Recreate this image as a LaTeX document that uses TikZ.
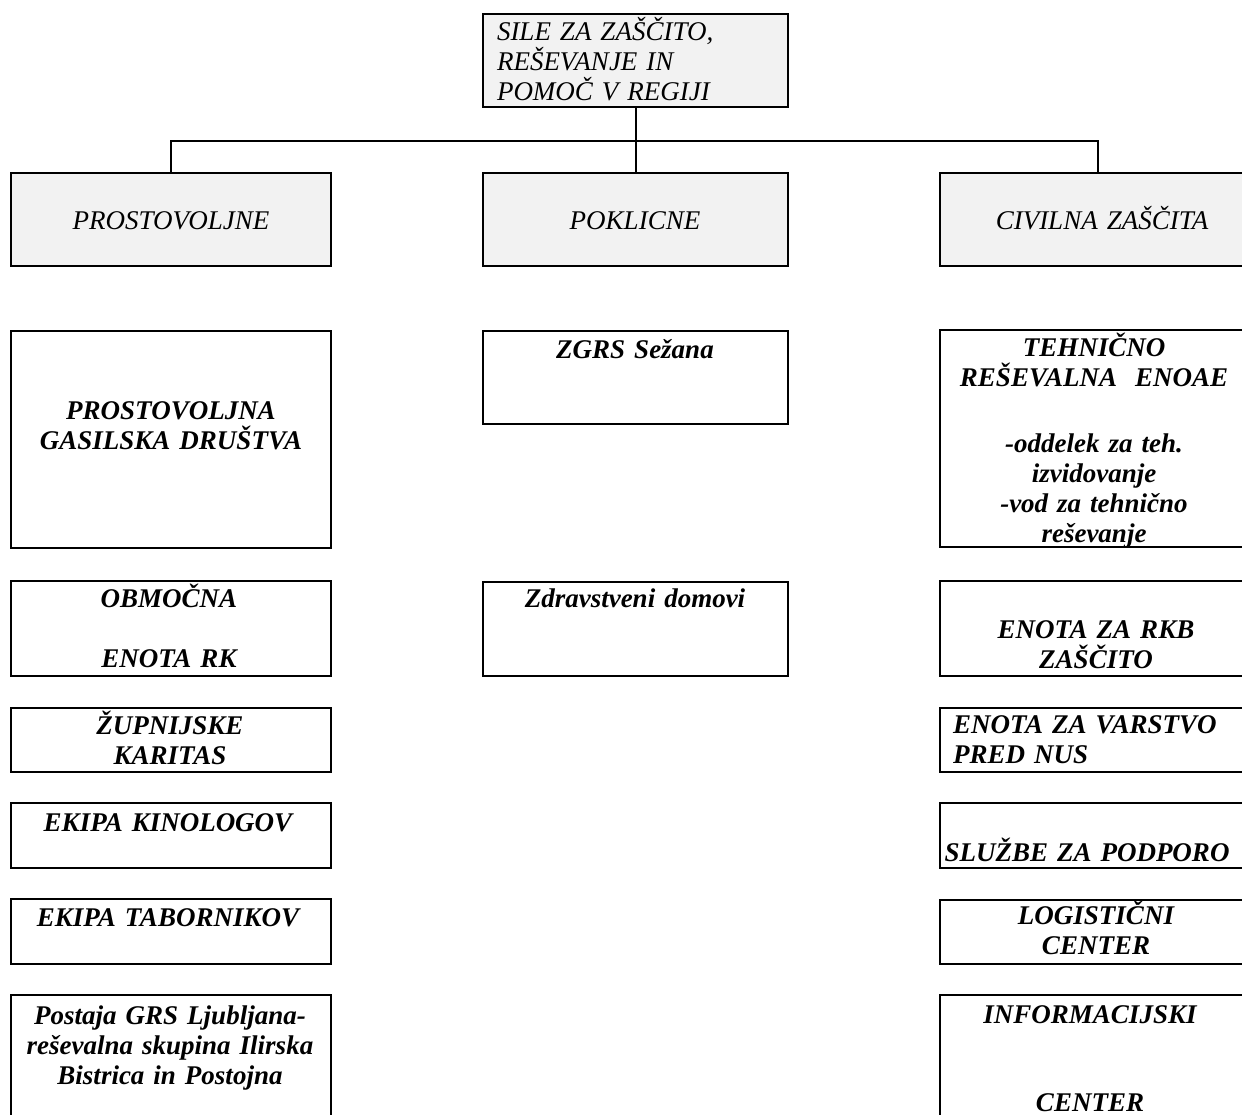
\documentclass[tikz,border=0pt]{standalone}
\usepackage{fontspec}
\setmainfont{Liberation Serif}
\definecolor{boxgray}{HTML}{F2F2F2}
\tikzset{
  orgbox/.style={draw=black, line width=2pt, anchor=north west, inner sep=0pt, outer sep=0pt},
  headbox/.style={orgbox, fill=boxgray},
  tx/.style={anchor=base, inner sep=0pt, text width=#1, align=center, font=\fontsize{27}{30}\selectfont\itshape},
  tx/.default=300pt,
  bx/.style={anchor=base, inner sep=0pt, text width=#1, align=center, font=\fontsize{27}{30}\selectfont\bfseries\itshape},
  bx/.default=300pt,
  conn/.style={line width=2pt}
}
\begin{document}
\begin{tikzpicture}[x=1pt, y=-1pt]
\useasboundingbox (0,0) rectangle (1242,1115);
\fill[white] (0,0) rectangle (1242,1115);
\begin{scope}
\clip (0,0) rectangle (1242,1115);
% level 0
\node[headbox, minimum width=305pt, minimum height=93pt] (top) at (483,14) {};
% level 1
\node[headbox, minimum width=320pt, minimum height=93pt] (prost) at (11,173) {};
\node[headbox, minimum width=305pt, minimum height=93pt] (pokl) at (483,173) {};
\node[headbox, minimum width=316pt, minimum height=93pt] (civ) at (940,173) {};
% left column
\node[orgbox, minimum width=320pt, minimum height=217pt] (l1) at (11,331) {};
\node[orgbox, minimum width=320pt, minimum height=95pt] (l2) at (11,581) {};
\node[orgbox, minimum width=320pt, minimum height=64pt] (l3) at (11,708) {};
\node[orgbox, minimum width=320pt, minimum height=65pt] (l4) at (11,803) {};
\node[orgbox, minimum width=320pt, minimum height=65pt] (l5) at (11,899) {};
\node[orgbox, minimum width=320pt, minimum height=140pt] (l6) at (11,995) {};
% middle column
\node[orgbox, minimum width=305pt, minimum height=93pt] (m1) at (483,331) {};
\node[orgbox, minimum width=305pt, minimum height=94pt] (m2) at (483,582) {};
% right column
\node[orgbox, minimum width=316pt, minimum height=217pt] (r1) at (940,330) {};
\node[orgbox, minimum width=316pt, minimum height=95pt] (r2) at (940,581) {};
\node[orgbox, minimum width=316pt, minimum height=64pt] (r3) at (940,708) {};
\node[orgbox, minimum width=316pt, minimum height=65pt] (r4) at (940,803) {};
\node[orgbox, minimum width=316pt, minimum height=64pt] (r5) at (940,900) {};
\node[orgbox, minimum width=316pt, minimum height=140pt] (r6) at (940,995) {};
% connectors
\coordinate (hub) at (635,141);
\draw[conn] (top.south) -- (pokl.north);
\draw[conn] (prost.north) |- (hub) -| (civ.north);
% texts
\node[tx=290pt, align=left] (ttop) at (642,41) {SILE ZA ZAŠČITO,\\REŠEVANJE IN\\POMOČ V REGIJI};
\node[tx] (tprost) at (171,230) {PROSTOVOLJNE};
\node[tx] (tpokl) at (635,230) {POKLICNE};
\node[tx] (tciv) at (1102,230) {CIVILNA ZAŠČITA};
\node[bx] (tl1) at (171,419) {PROSTOVOLJNA\\GASILSKA DRUŠTVA};
\node[bx] (tl2) at (169,607) {OBMOČNA\\[30pt]ENOTA RK};
\node[bx] (tl3) at (170,734) {ŽUPNIJSKE\\KARITAS};
\node[bx] (tl4) at (168,831) {EKIPA KINOLOGOV};
\node[bx] (tl5) at (168,926) {EKIPA TABORNIKOV};
\node[bx] (tl6) at (170,1024) {Postaja GRS Ljubljana-\\reševalna skupina Ilirska\\Bistrica in Postojna};
\node[bx] (tm1) at (635,358) {ZGRS Sežana};
\node[bx] (tm2) at (635,607) {Zdravstveni domovi};
\node[bx] (tr1a) at (1094,356) {TEHNIČNO\\REŠEVALNA\ \ ENOAE};
\node[bx] (tr1b) at (1094,452) {-oddelek za teh.\\izvidovanje\\-vod za tehnično\\reševanje};
\node[bx] (tr2) at (1096,638) {ENOTA ZA RKB\\ZAŠČITO};
\node[bx=300pt, align=left] (tr3) at (1103,733) {ENOTA ZA VARSTVO\\PRED NUS};
\node[bx=320pt] (tr4) at (1087,861) {SLUŽBE ZA PODPORO};
\node[bx] (tr5) at (1096,924) {LOGISTIČNI\\CENTER};
\node[bx] (tr6) at (1090,1023) {INFORMACIJSKI\\[58pt]CENTER};
\end{scope}
\end{tikzpicture}
\end{document}
